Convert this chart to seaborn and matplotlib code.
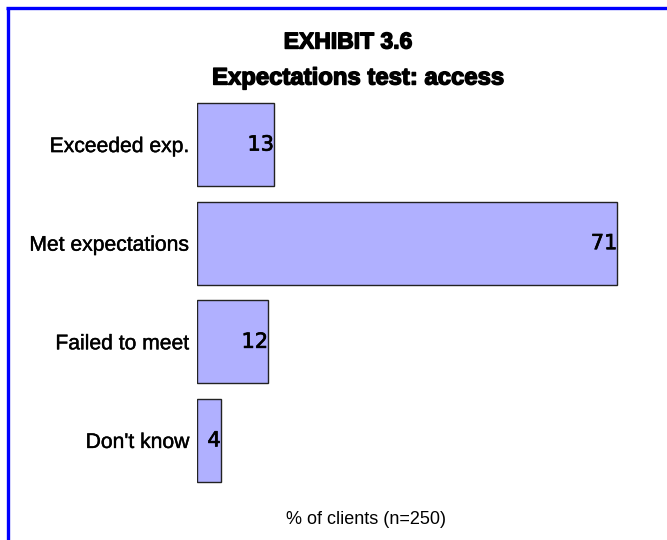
import matplotlib
matplotlib.use("Agg")
import matplotlib.pyplot as plt
import matplotlib.patheffects as pe
import seaborn as sns
import pandas as pd
from matplotlib.lines import Line2D

categories = ["Exceeded exp.", "Met expectations", "Failed to meet", "Don't know"]
values = [13, 71, 12, 4]
title1 = "EXHIBIT 3.6"
title2 = "Expectations test: access"
xlabel = "% of clients (n=250)"

sns.set_theme(style="white")
plt.rcParams['font.family'] = ['Liberation Sans', 'DejaVu Sans']

W, H = 667, 540
fig = plt.figure(figsize=(W / 100, H / 100), dpi=100)
fig.patch.set_facecolor("white")

left, right = 197, 647
top, bottom = 95.25, 489.75
ax = fig.add_axes([left / W, 1 - bottom / H, (right - left) / W, (bottom - top) / H])

df = pd.DataFrame({"category": categories, "value": values})
sns.barplot(data=df, x="value", y="category", orient="h", color="#B0B0FF",
            saturation=1, edgecolor="#222222", linewidth=1.0, width=0.84, ax=ax)

ax.set_xlim(0, (right - left) / 5.92)
ax.set_ylim(3.5, -0.5)
for s in ax.spines.values():
    s.set_visible(False)
ax.set_xticks([])
ax.set_xlabel("")
ax.set_ylabel("")
ax.tick_params(axis="y", length=0, pad=5.5, labelsize=15.2)
for lbl in ax.get_yticklabels():
    lbl.set_color("black")
    lbl.set_path_effects([pe.withStroke(linewidth=0.3, foreground="black")])

for i, v in enumerate(values):
    ax.text(v, i, str(v), ha="right", va="center", fontsize=15,
            family="DejaVu Sans", color="black",
            path_effects=[pe.withStroke(linewidth=0.5, foreground="black")])

thick = [pe.withStroke(linewidth=1.0, foreground="black")]
fig.text(348 / W, 1 - 42 / H, title1, ha="center", va="center",
         fontsize=16.5, fontweight="bold", color="black", path_effects=thick)
fig.text(358 / W, 1 - 78 / H, title2, ha="center", va="center",
         fontsize=17.2, fontweight="bold", color="black", path_effects=thick)
fig.text(366 / W, 1 - 520 / H, xlabel, ha="center", va="center",
         fontsize=13, color="black")

bx, by = 7.5 / W, 1 - 7.5 / H
fig.add_artist(Line2D([bx, bx], [0, by], transform=fig.transFigure,
                      color="#0000FF", linewidth=2.4, solid_capstyle="butt"))
fig.add_artist(Line2D([bx - 1.2 / W, 1], [by, by], transform=fig.transFigure,
                      color="#0000FF", linewidth=2.4, solid_capstyle="butt"))

fig.savefig("out.png", dpi=100)
